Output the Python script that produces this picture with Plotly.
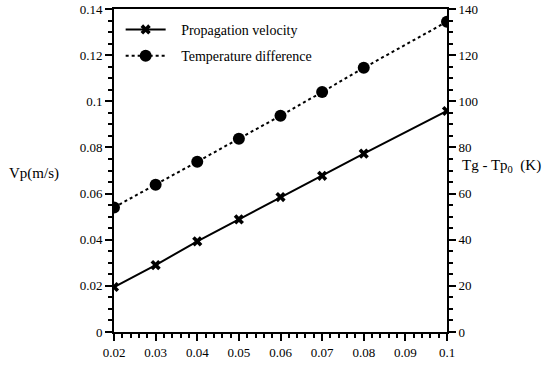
import plotly.graph_objects as go

x_vals = [0.02, 0.03, 0.04, 0.05, 0.06, 0.07, 0.08, 0.1]
vp_vals = [0.0195, 0.029, 0.0393, 0.0488, 0.0585, 0.0677, 0.0773, 0.0958]
dt_vals = [54.0, 63.8, 73.8, 83.8, 93.7, 104.0, 114.5, 134.5]

font = "Liberation Serif"

fig = go.Figure()
fig.add_trace(go.Scatter(x=x_vals, y=vp_vals, mode="lines+markers",
                         name="\u00a0\u00a0\u00a0Propagation velocity", legendgroup="a",
                         line=dict(color="black", width=2),
                         marker=dict(symbol="x", size=9, color="black"), yaxis="y"))
fig.add_trace(go.Scatter(x=x_vals, y=dt_vals, mode="lines+markers",
                         name="\u00a0\u00a0\u00a0Temperature difference", legendgroup="b",
                         line=dict(color="black", width=2, dash="dot"),
                         marker=dict(symbol="circle", size=12, color="black"), yaxis="y2"))

axis_common = dict(showgrid=False, zeroline=False, showline=True, linecolor="black", linewidth=2,
                   ticks="outside", ticklen=7, tickwidth=1.5, tickcolor="black", automargin=False,
                   tickfont=dict(family=font, size=13, color="black"))

fig.update_layout(
    width=559, height=367,
    margin=dict(l=114, r=112, t=9, b=35),
    paper_bgcolor="white", plot_bgcolor="white",
    font=dict(family=font, color="black"),
    showlegend=True,
    legend=dict(x=0.02, y=0.985, xanchor="left", yanchor="top", bgcolor="rgba(0,0,0,0)",
                font=dict(family=font, size=14, color="black"), tracegroupgap=5, itemwidth=40),
    xaxis=dict(range=[0.02, 0.1], dtick=0.01, tick0=0.02, mirror=True,
               minor=dict(dtick=0.002, ticklen=4, ticks="outside", tickcolor="black"),
               **axis_common),
    yaxis=dict(range=[0, 0.14], dtick=0.02,
               minor=dict(dtick=0.005, ticklen=4, ticks="outside", tickcolor="black"),
               **axis_common),
    yaxis2=dict(range=[0, 140], dtick=20, overlaying="y", side="right",
                minor=dict(dtick=5, ticklen=4, ticks="outside", tickcolor="black"),
                **axis_common),
    annotations=[
        dict(text="Vp(m/s)", xref="paper", yref="paper", x=-0.16, y=0.49, xanchor="right",
             yanchor="middle", showarrow=False, font=dict(family=font, size=15, color="black")),
        dict(text="Tg - Tp<sub>0</sub>  (K)", xref="paper", yref="paper", x=1.04, y=0.515,
             xanchor="left", yanchor="middle", showarrow=False,
             font=dict(family=font, size=15, color="black")),
    ],
)

fig.write_html("out.html")
